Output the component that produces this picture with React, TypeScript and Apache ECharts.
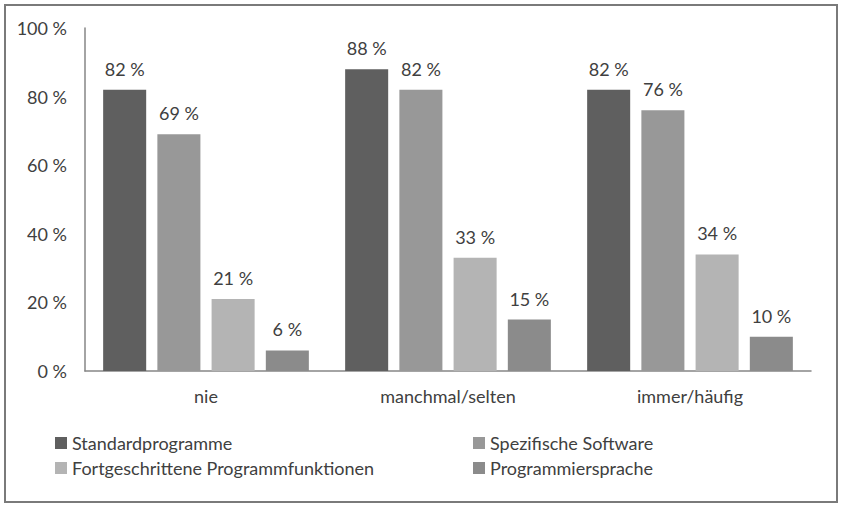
import React, { useEffect, useRef } from "react";
import * as echarts from "echarts";

const categories = ["nie", "manchmal/selten", "immer/häufig"];
const seriesNames = [
  "Standardprogramme",
  "Spezifische Software",
  "Fortgeschrittene Programmfunktionen",
  "Programmiersprache",
];
const standardprogramme = [82, 88, 82];
const spezifischeSoftware = [69, 82, 76];
const fortgeschrittene = [21, 33, 34];
const programmiersprache = [6, 15, 10];
const yTicks = [0, 20, 40, 60, 80, 100];

const colors = ["#5f5f5f", "#989898", "#b4b4b4", "#8b8b8b"];
const FONT = "Lato";
const FS = 18;

export default function App() {
  const ref = useRef<HTMLDivElement>(null);
  useEffect(() => {
    if (!ref.current) return;
    const chart = echarts.init(ref.current, null, { renderer: "svg" });
    const values = [standardprogramme, spezifischeSoftware, fortgeschrittene, programmiersprache];
    const legendBase = {
      top: 434,
      orient: "vertical",
      padding: 0,
      itemWidth: 12,
      itemHeight: 12,
      itemGap: 7,
      icon: "rect",
      textStyle: { fontFamily: FONT, fontSize: FS, color: "#404040" },
    };
    chart.setOption({
      animation: false,
      backgroundColor: "#ffffff",
      textStyle: { fontFamily: FONT },
      grid: { left: 85, right: 31, top: 28, bottom: 135, containLabel: false },
      graphic: [
        {
          type: "rect",
          shape: { x: 5, y: 5, width: 832, height: 497 },
          style: { fill: "none", stroke: "#7a7a7a", lineWidth: 2 },
        },
      ],
      legend: [
        { ...legendBase, left: 55, data: [seriesNames[0], seriesNames[2]] },
        { ...legendBase, left: 473, data: [seriesNames[1], seriesNames[3]] },
      ],
      xAxis: {
        type: "category",
        data: categories,
        axisLine: { lineStyle: { color: "#868686", width: 1.5 } },
        axisTick: { show: false },
        axisLabel: { fontFamily: FONT, fontSize: FS, color: "#404040", margin: 16 },
      },
      yAxis: {
        type: "value",
        min: 0,
        max: 100,
        interval: 20,
        axisLine: { show: true, lineStyle: { color: "#868686", width: 1.5 } },
        axisTick: { show: false },
        splitLine: { show: false },
        axisLabel: {
          fontFamily: FONT,
          fontSize: FS,
          color: "#404040",
          margin: 18,
          formatter: (v: number) => (yTicks.includes(v) ? `${v} %` : ""),
        },
      },
      series: seriesNames.map((name, i) => ({
        name,
        type: "bar",
        data: values[i],
        barGap: "26%",
        barCategoryGap: "15%",
        itemStyle: { color: colors[i] },
        label: {
          show: true,
          position: "top",
          distance: 12,
          fontFamily: FONT,
          fontSize: FS,
          color: "#404040",
          formatter: (p: any) => `${p.value} %`,
        },
      })),
    });
    return () => chart.dispose();
  }, []);
  return (
    <div
      ref={ref}
      style={{ position: "fixed", left: 0, top: 0, width: 842, height: 506 }}
    />
  );
}
